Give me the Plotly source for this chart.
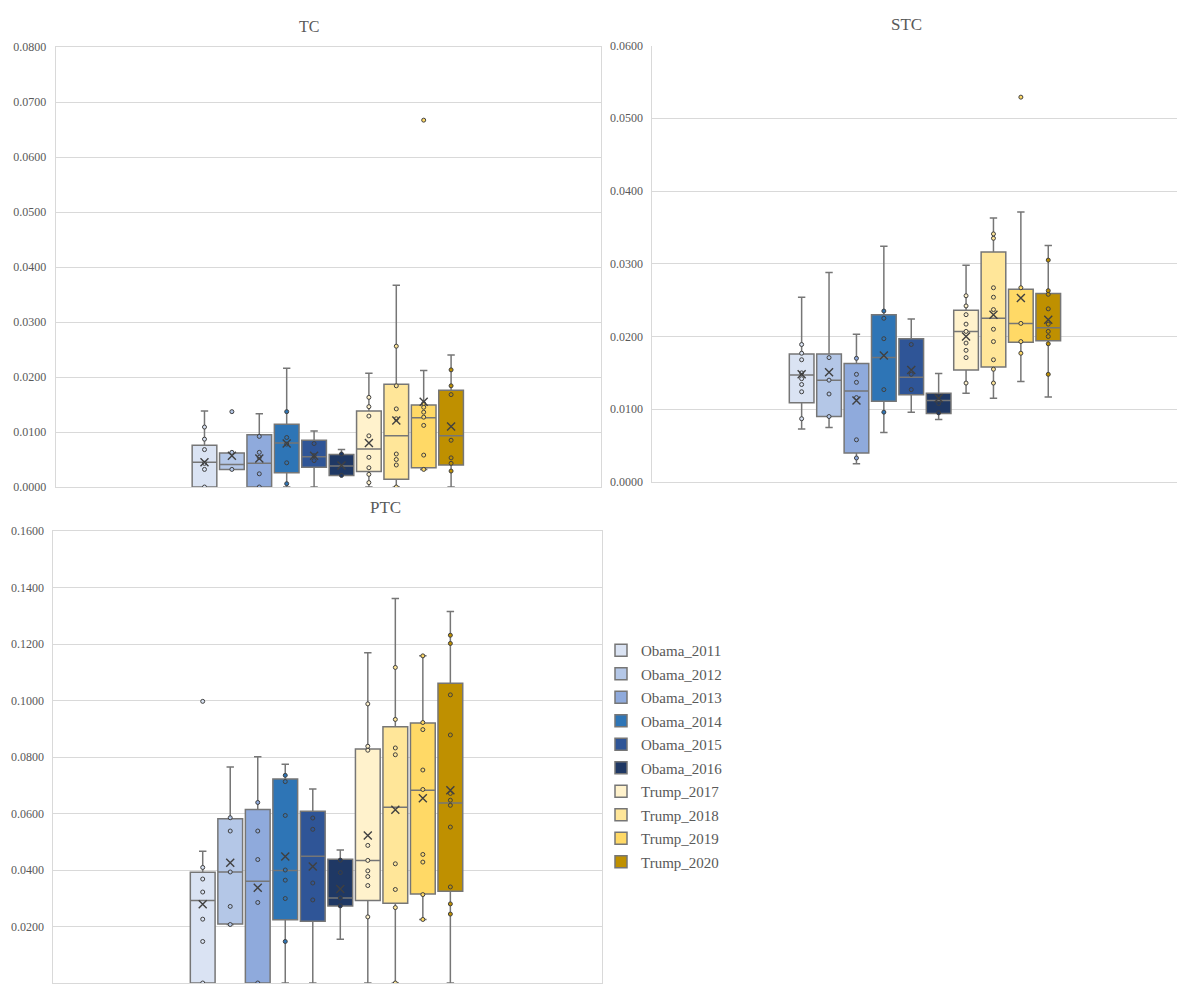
import plotly.graph_objects as go

OFF = 8  # default page body margin
W, H = 1185 - OFF, 985 - OFF

categories = ["Obama_2011", "Obama_2012", "Obama_2013", "Obama_2014", "Obama_2015",
              "Obama_2016", "Trump_2017", "Trump_2018", "Trump_2019", "Trump_2020"]
colors = ["#dae3f3", "#b4c7e7", "#8faadc", "#2e75b6", "#2f5597",
          "#1f3864", "#fff2cc", "#ffe699", "#ffd966", "#bf9000"]

# ---- TC ----
tc_q1 = [0.0000, 0.0032, 0.0000, 0.0026, 0.0036, 0.0021, 0.0028, 0.0014, 0.0035, 0.0040]
tc_med = [0.0045, 0.0041, 0.0043, 0.0080, 0.0055, 0.0038, 0.0069, 0.0093, 0.0126, 0.0093]
tc_q3 = [0.0076, 0.0062, 0.0095, 0.0114, 0.0085, 0.0059, 0.0138, 0.0187, 0.0149, 0.0176]
tc_lo = [0.0000, 0.0032, 0.0000, 0.0000, 0.0000, 0.0021, 0.0000, 0.0000, 0.0032, 0.0000]
tc_hi = [0.0138, 0.0062, 0.0133, 0.0216, 0.0102, 0.0068, 0.0207, 0.0367, 0.0212, 0.0240]
tc_mean = [0.0045, 0.0057, 0.0052, 0.0079, 0.0057, 0.0039, 0.0080, 0.0121, 0.0155, 0.0110]
tc_points = [
    [0.0000, 0.0032, 0.0043, 0.0068, 0.0087, 0.0109],
    [0.0032, 0.0063, 0.0137],
    [0.0000, 0.0024, 0.0054, 0.0063, 0.0092],
    [0.0006, 0.0044, 0.0078, 0.0090, 0.0137],
    [0.0048, 0.0057, 0.0079],
    [0.0021, 0.0060],
    [0.0008, 0.0023, 0.0035, 0.0054, 0.0093, 0.0129, 0.0146, 0.0163],
    [0.0000, 0.0040, 0.0050, 0.0060, 0.0124, 0.0142, 0.0184, 0.0256],
    [0.0032, 0.0058, 0.0112, 0.0127, 0.0136, 0.0145, 0.0152, 0.0667],
    [0.0029, 0.0043, 0.0053, 0.0085, 0.0168, 0.0184, 0.0213],
]

# ---- STC ----
stc_q1 = [0.0109, 0.0090, 0.0040, 0.0111, 0.0120, 0.0094, 0.0154, 0.0158, 0.0192, 0.0194]
stc_med = [0.0147, 0.0140, 0.0125, 0.0171, 0.0144, 0.0112, 0.0207, 0.0225, 0.0218, 0.0212]
stc_q3 = [0.0176, 0.0176, 0.0163, 0.0230, 0.0197, 0.0122, 0.0236, 0.0316, 0.0265, 0.0259]
stc_lo = [0.0073, 0.0075, 0.0025, 0.0068, 0.0096, 0.0086, 0.0122, 0.0115, 0.0138, 0.0117]
stc_hi = [0.0254, 0.0288, 0.0203, 0.0324, 0.0224, 0.0149, 0.0298, 0.0363, 0.0371, 0.0325]
stc_mean = [0.0148, 0.0151, 0.0112, 0.0174, 0.0154, 0.0115, 0.0200, 0.0230, 0.0253, 0.0223]
stc_points = [
    [0.0087, 0.0124, 0.0134, 0.0142, 0.0150, 0.0168, 0.0177, 0.0189],
    [0.0090, 0.0121, 0.0140, 0.0171],
    [0.0033, 0.0058, 0.0116, 0.0137, 0.0148, 0.0170],
    [0.0096, 0.0127, 0.0197, 0.0225, 0.0235],
    [0.0127, 0.0148, 0.0189],
    [0.0095, 0.0108, 0.0118],
    [0.0136, 0.0171, 0.0181, 0.0191, 0.0207, 0.0217, 0.0230, 0.0242, 0.0256],
    [0.0136, 0.0155, 0.0168, 0.0193, 0.0210, 0.0237, 0.0254, 0.0267, 0.0335, 0.0341],
    [0.0177, 0.0193, 0.0218, 0.0267, 0.0529],
    [0.0148, 0.0190, 0.0200, 0.0207, 0.0217, 0.0238, 0.0258, 0.0263, 0.0305],
]

# ---- PTC ----
ptc_q1 = [0.0000, 0.0209, 0.0000, 0.0224, 0.0219, 0.0273, 0.0292, 0.0282, 0.0315, 0.0325]
ptc_med = [0.0292, 0.0393, 0.0360, 0.0398, 0.0449, 0.0301, 0.0434, 0.0622, 0.0682, 0.0637]
ptc_q3 = [0.0392, 0.0581, 0.0614, 0.0722, 0.0608, 0.0438, 0.0828, 0.0907, 0.0920, 0.1061]
ptc_lo = [0.0000, 0.0207, 0.0000, 0.0000, 0.0000, 0.0155, 0.0000, 0.0000, 0.0225, 0.0000]
ptc_hi = [0.0466, 0.0765, 0.0801, 0.0774, 0.0687, 0.0471, 0.1169, 0.1361, 0.1158, 0.1315]
ptc_mean = [0.0279, 0.0426, 0.0337, 0.0448, 0.0412, 0.0333, 0.0522, 0.0613, 0.0654, 0.0682]
ptc_points = [
    [0.0000, 0.0147, 0.0226, 0.0322, 0.0368, 0.0409, 0.0997],
    [0.0207, 0.0271, 0.0393, 0.0538, 0.0585],
    [0.0000, 0.0285, 0.0437, 0.0538, 0.0639],
    [0.0147, 0.0299, 0.0364, 0.0400, 0.0593, 0.0713, 0.0735],
    [0.0294, 0.0354, 0.0544, 0.0584],
    [0.0273, 0.0301, 0.0391, 0.0435],
    [0.0234, 0.0345, 0.0377, 0.0397, 0.0434, 0.0487, 0.0824, 0.0838, 0.0988],
    [0.0000, 0.0267, 0.0331, 0.0422, 0.0808, 0.0832, 0.0933, 0.1117],
    [0.0225, 0.0313, 0.0428, 0.0455, 0.0685, 0.0754, 0.0897, 0.0922, 0.1158],
    [0.0244, 0.0280, 0.0340, 0.0552, 0.0629, 0.0647, 0.0671, 0.0878, 0.1020, 0.1202, 0.1231],
]

FONT = "Liberation Serif"
TXT = "#595959"
GRID = "#d9d9d9"
MARK = "#404040"

panels = [
    dict(name="TC", xa="x", ya="y", q1=tc_q1, med=tc_med, q3=tc_q3, lo=tc_lo, hi=tc_hi,
         mean=tc_mean, pts=tc_points, legend=True),
    dict(name="STC", xa="x2", ya="y2", q1=stc_q1, med=stc_med, q3=stc_q3, lo=stc_lo, hi=stc_hi,
         mean=stc_mean, pts=stc_points, legend=False),
    dict(name="PTC", xa="x3", ya="y3", q1=ptc_q1, med=ptc_med, q3=ptc_q3, lo=ptc_lo, hi=ptc_hi,
         mean=ptc_mean, pts=ptc_points, legend=False),
]

fig = go.Figure()
for p in panels:
    for i, cat in enumerate(categories):
        fig.add_trace(go.Box(
            x=[i], q1=[p["q1"][i]], median=[p["med"][i]], q3=[p["q3"][i]],
            lowerfence=[p["lo"][i]], upperfence=[p["hi"][i]],
            name=cat, legendgroup=cat, showlegend=p["legend"],
            fillcolor=colors[i], line=dict(color="#767676", width=1.5),
            width=0.9, whiskerwidth=0.3, boxpoints=False,
            xaxis=p["xa"], yaxis=p["ya"], hoverinfo="skip",
        ))
    for i, cat in enumerate(categories):
        fig.add_trace(go.Scatter(
            x=[i] * len(p["pts"][i]), y=p["pts"][i], mode="markers",
            marker=dict(size=4, color=colors[i], line=dict(color=MARK, width=1)),
            showlegend=False, xaxis=p["xa"], yaxis=p["ya"], hoverinfo="skip",
        ))
    fig.add_trace(go.Scatter(
        x=list(range(len(categories))), y=p["mean"], mode="markers",
        marker=dict(symbol="x-thin-open", size=8, color=MARK, line=dict(color=MARK, width=1.4)),
        showlegend=False, xaxis=p["xa"], yaxis=p["ya"], hoverinfo="skip",
    ))

def px_x(v):
    return (v - OFF) / W

def px_y(v):
    return 1 - (v - OFF) / H

yax_common = dict(showgrid=True, gridcolor=GRID, gridwidth=1, zeroline=False,
                  tickformat=".4f", ticks="", tickfont=dict(family=FONT, size=12, color=TXT),
                  showline=True, linecolor=GRID, linewidth=1, automargin=False,
                  ticklabelstandoff=6)
xax_common = dict(showgrid=False, zeroline=False, showticklabels=False, ticks="",
                  showline=True, linecolor=GRID, linewidth=1, automargin=False)

fig.update_layout(
    width=W, height=H,
    margin=dict(l=0, r=0, t=0, b=0),
    paper_bgcolor="white", plot_bgcolor="white",
    font=dict(family=FONT, color=TXT),
    xaxis=dict(domain=[px_x(55.7), px_x(600.7)], range=[-5.43, 14.46], anchor="y",
               mirror=True, **xax_common),
    yaxis=dict(domain=[px_y(487), px_y(47)], range=[0, 0.08], dtick=0.01, anchor="x",
               mirror=True, **yax_common),
    xaxis2=dict(domain=[px_x(652.3), 1.0], range=[-5.45, 13.99], anchor="y2", **xax_common),
    yaxis2=dict(domain=[px_y(482), px_y(45.5)], range=[0, 0.06], dtick=0.01, anchor="x2",
                **yax_common),
    xaxis3=dict(domain=[px_x(53.3), px_x(601.7)], range=[-5.43, 14.5], anchor="y3",
                mirror=True, **xax_common),
    yaxis3=dict(domain=[px_y(983), px_y(531)], range=[0, 0.16], dtick=0.02, anchor="x3",
                mirror=True, **yax_common),
    legend=dict(x=px_x(601), y=px_y(634), xanchor="left", yanchor="top",
                font=dict(family=FONT, size=15, color=TXT), tracegroupgap=1,
                itemwidth=30, bgcolor="rgba(0,0,0,0)"),
    showlegend=True,
    annotations=[
        dict(text="TC", x=px_x(309), y=px_y(27), xref="paper", yref="paper",
             xanchor="center", yanchor="middle",
             showarrow=False, font=dict(family=FONT, size=16, color=TXT)),
        dict(text="STC", x=px_x(906), y=px_y(24), xref="paper", yref="paper",
             xanchor="center", yanchor="middle",
             showarrow=False, font=dict(family=FONT, size=17, color=TXT)),
        dict(text="PTC", x=px_x(385), y=px_y(507), xref="paper", yref="paper",
             xanchor="center", yanchor="middle",
             showarrow=False, font=dict(family=FONT, size=17, color=TXT)),
    ],
)

fig.write_html("out.html")
